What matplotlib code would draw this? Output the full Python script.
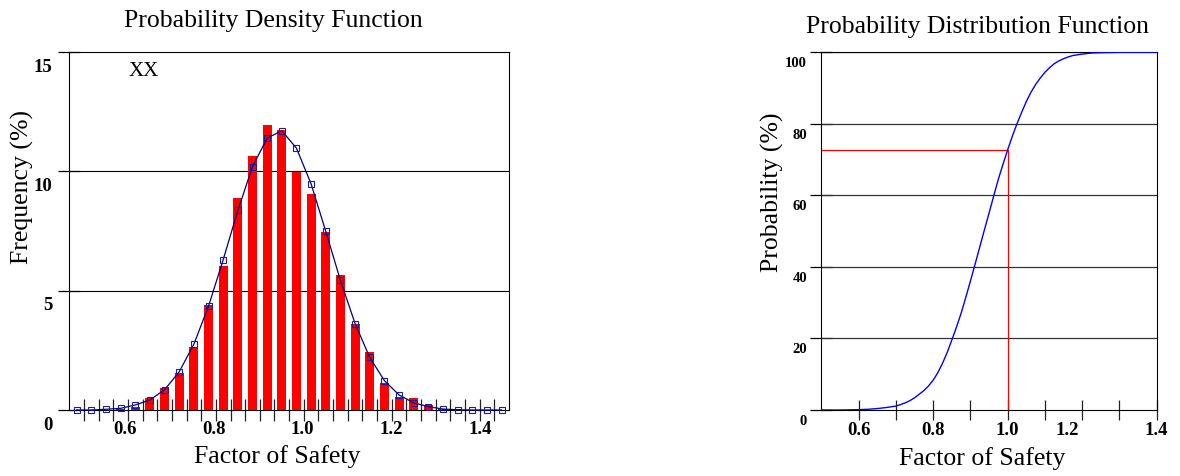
import matplotlib
matplotlib.use("Agg")
import matplotlib.pyplot as plt
from matplotlib.transforms import ScaledTranslation
import numpy as np

# ---------------- data ----------------
bin_centers = [0.4915, 0.5245, 0.5575, 0.5905, 0.6235, 0.6565, 0.6895, 0.7225,
               0.7555, 0.7885, 0.8215, 0.8545, 0.8875, 0.9205, 0.9535, 0.9865,
               1.0195, 1.0525, 1.0855, 1.1185, 1.1515, 1.1845, 1.2175, 1.2505,
               1.2835, 1.3165, 1.3495, 1.3825, 1.4155, 1.4485]
bin_edges = [0.475, 0.508, 0.541, 0.574, 0.607, 0.640, 0.673, 0.706, 0.739,
             0.772, 0.805, 0.838, 0.871, 0.904, 0.937, 0.970, 1.003, 1.036,
             1.069, 1.102, 1.135, 1.168, 1.201, 1.234, 1.267, 1.300, 1.333,
             1.366, 1.399, 1.432, 1.465]
freq_bars = [0.0, 0.0, 0.0, 0.03, 0.14, 0.51, 0.93, 1.57, 2.63, 4.41,
             6.03, 8.89, 10.63, 11.95, 11.73, 9.99, 9.05, 7.44, 5.67, 3.62,
             2.42, 1.12, 0.53, 0.49, 0.22, 0.05, 0.04, 0.0, 0.0, 0.0]
freq_fit = [0.0, 0.0, 0.03, 0.07, 0.21, 0.42, 0.85, 1.6, 2.76, 4.35,
            6.3, 8.36, 10.2, 11.39, 11.7, 10.97, 9.47, 7.48, 5.43, 3.62,
            2.2, 1.23, 0.63, 0.3, 0.14, 0.04, 0.01, 0.0, 0.0, 0.0]

cdf_x = [0.5, 0.55, 0.6, 0.625, 0.65, 0.6625, 0.675, 0.6875, 0.7, 0.7125,
         0.725, 0.7375, 0.75, 0.7625, 0.775, 0.7875, 0.8, 0.8125, 0.825,
         0.8375, 0.85, 0.8625, 0.875, 0.8875, 0.9, 0.9125, 0.925, 0.9375,
         0.95, 0.9625, 0.975, 0.9875, 1.0, 1.0125, 1.025, 1.0375, 1.05,
         1.0625, 1.075, 1.0875, 1.1, 1.1125, 1.125, 1.1375, 1.15, 1.1625,
         1.175, 1.1875, 1.2, 1.225, 1.25, 1.3, 1.35, 1.4]
cdf_y = [0.0, 0.0, 0.1, 0.2, 0.4, 0.55, 0.7, 0.9, 1.1, 1.5,
         2.0, 2.6, 3.4, 4.4, 5.4, 6.7, 8.3, 10.4, 13.0,
         16.0, 19.5, 23.1, 27.0, 31.4, 36.0, 40.7, 45.5, 50.3,
         55.0, 59.8, 64.5, 68.7, 72.7, 76.5, 80.0, 83.2, 86.2,
         88.8, 91.0, 92.8, 94.4, 95.7, 96.8, 97.6, 98.2, 98.7,
         99.1, 99.3, 99.5, 99.8, 99.9, 100.0, 100.0, 100.0]
fos_target = 1.0
prob_at_target = 72.7

left_xlabels = ["0.6", "0.8", "1.0", "1.2", "1.4"]
left_xlabel_pos = [0.6, 0.8, 1.0, 1.2, 1.4]
left_yticks = [0, 5, 10, 15]
right_xticks = [0.6, 0.7, 0.8, 0.9, 1.0, 1.1, 1.2, 1.3, 1.4]
right_xlabels = ["0.6", "", "0.8", "", "1.0", "", "1.2", "", "1.4"]
right_yticks = [0, 20, 40, 60, 80, 100]

# ---------------- figure ----------------
W, H, DPI = 1180, 476, 100
fig = plt.figure(figsize=(W / DPI, H / DPI), dpi=DPI)
plt.rcParams['font.family'] = ['Liberation Serif', 'DejaVu Serif']

def frac(x0, y0, x1, y1):
    return [x0 / W, 1 - y1 / H, (x1 - x0) / W, (y1 - y0) / H]

ax1 = fig.add_axes(frac(69.3, 52, 509, 410))
ax2 = fig.add_axes(frac(821.3, 52.3, 1156.7, 410))

for ax in (ax1, ax2):
    for sp in ax.spines.values():
        sp.set_color('black')
        sp.set_linewidth(0.8)
    ax.set_axisbelow(True)

LABEL_FS = 18.5
TICK_FS = 13.5

# ----- left: PDF -----
ax1.bar(bin_centers, freq_bars, width=0.0205, color='#FF0000', zorder=2)
ax1.plot(bin_centers, freq_fit, color='#000080', lw=0.9, marker='s', ms=4.8,
         mfc='none', mec='#1a1a9a', mew=0.8, zorder=3, clip_on=False)
ax1.set_xlim(bin_edges[0], bin_edges[-1])
ax1.set_ylim(0, 15)
ax1.set_xticks(bin_edges[1:-1])
ax1.set_xticklabels([])
ax1.set_xticks(left_xlabel_pos, minor=True)
ax1.set_xticklabels(left_xlabels, minor=True, fontweight='bold', fontsize=TICK_FS)
ax1.tick_params(axis='x', which='major', direction='inout', length=16, width=0.9, color='#222222')
ax1.tick_params(axis='x', which='minor', length=0, pad=8)
ax1.set_yticks(left_yticks)
ax1.set_yticklabels([str(v) for v in left_yticks], fontweight='bold', fontsize=TICK_FS)
ax1.tick_params(axis='y', direction='inout', length=16, width=0.9, pad=4.0)
for v in [5, 10]:
    ax1.axhline(v, color='black', lw=0.8, zorder=1)
for lbl in ax1.get_yticklabels():
    lbl.set_transform(lbl.get_transform() + ScaledTranslation(0, -13 / DPI, fig.dpi_scale_trans))

fig.text(273 / W, 1 - 27 / H, "Probability Density Function", ha='center', va='baseline', fontsize=LABEL_FS)
fig.text(277 / W, 1 - 463 / H, "Factor of Safety", ha='center', va='baseline', fontsize=LABEL_FS)
fig.text(22.5 / W, 1 - 187 / H, "Frequency (%)", ha='center', va='center', rotation=90, fontsize=LABEL_FS)
fig.text(144 / W, 1 - 76 / H, "XX", ha='center', va='baseline', fontsize=15)

# ----- right: CDF -----
ax2.plot(cdf_x, cdf_y, color='#0000FF', lw=1.0, zorder=3)
ax2.plot([cdf_x[0], fos_target, fos_target], [prob_at_target, prob_at_target, 0],
         color='#FF0000', lw=0.9, zorder=2)
ax2.set_xlim(0.5, 1.4)
ax2.set_ylim(0, 100)
ax2.set_xticks(right_xticks)
ax2.set_xticklabels(right_xlabels, fontweight='bold', fontsize=TICK_FS)
ax2.tick_params(axis='x', direction='inout', length=15, width=0.9, pad=1, color='#222222')
ax2.set_yticks(right_yticks)
ax2.set_yticklabels([str(v) for v in right_yticks], fontweight='bold', fontsize=10.5)
ax2.tick_params(axis='y', direction='inout', length=16, width=0.9, pad=2.2)
for v in right_yticks[1:]:
    ax2.axhline(v, color='#333333', lw=0.9, zorder=1)
for lbl in ax2.get_yticklabels():
    lbl.set_transform(lbl.get_transform() + ScaledTranslation(0, -10 / DPI, fig.dpi_scale_trans))
for lbl in ax2.get_xticklabels():
    if lbl.get_text() == "1.2":
        lbl.set_transform(lbl.get_transform() + ScaledTranslation(-15 / DPI, 0, fig.dpi_scale_trans))

fig.text(978 / W, 1 - 33 / H, "Probability Distribution Function", ha='center', va='baseline', fontsize=LABEL_FS)
fig.text(982 / W, 1 - 465 / H, "Factor of Safety", ha='center', va='baseline', fontsize=LABEL_FS)
fig.text(772 / W, 1 - 192 / H, "Probability (%)", ha='center', va='center', rotation=90, fontsize=LABEL_FS)

fig.savefig("out.png", dpi=DPI)
